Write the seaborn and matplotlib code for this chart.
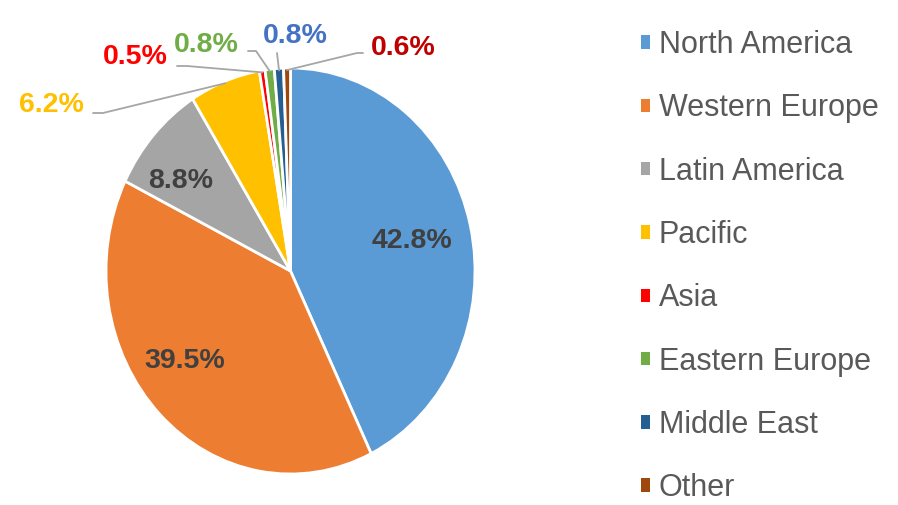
import numpy as np
import seaborn as sns
import matplotlib.pyplot as plt

# Dados do grafico
regioes = ['North America', 'Western Europe', 'Latin America', 'Pacific',
           'Asia', 'Eastern Europe', 'Middle East', 'Other']
percentuais = [42.8, 39.5, 8.8, 6.2, 0.5, 0.8, 0.8, 0.6]
cores = ['#5B9BD5', '#ED7D31', '#A5A5A5', '#FFC000',
         '#FF0000', '#70AD47', '#255E91', '#9E480E']
cores_rotulo = ['#404040', '#404040', '#404040', '#FFC000',
                '#FF0000', '#70AD47', '#4472C4', '#C00000']

# posicao dos rotulos (pixels da imagem, origem no canto superior esquerdo)
pos_rotulo = [(412, 248), (185, 368), (181, 188), (51, 112),
              (135, 64), (206, 52), (295, 43), (403, 55)]
# inicio das linhas de chamada (None = rotulo dentro da fatia)
inicio_linha = [None, None, None, [(93, 113), (103, 113)],
                [(177, 66), (187, 66)], [(248, 51), (256, 51)],
                [(277, 53)], [(363, 53), (357, 53)]]

# centro e raios da pizza (a imagem original esta esticada na vertical)
CX, CY, RX, RY = 290.5, 271, 184.5, 203
W, H = 898, 505


def px(x, y):
    return (x - CX) / RX, (CY - y) / RY


sns.set_theme(style='white')
plt.rcParams['font.family'] = ['Liberation Sans', 'DejaVu Sans']

fig = plt.figure(figsize=(W / 100, H / 100), dpi=100)
ax = fig.add_axes([0, 0, 1, 1])

fatias, _ = ax.pie(percentuais, colors=cores, startangle=90, counterclock=False,
                   wedgeprops=dict(edgecolor='white', linewidth=2))
ax.set_aspect('auto')
ax.set_xlim(px(0, 0)[0], px(W, 0)[0])
ax.set_ylim(px(0, H)[1], px(0, 0)[1])
ax.axis('off')

# rotulos e linhas de chamada
for fatia, valor, cor, pos, linha in zip(fatias, percentuais, cores_rotulo, pos_rotulo, inicio_linha):
    tx, ty = px(*pos)
    ax.text(tx, ty, f'{valor:.1f}%', color=cor, fontsize=20.5, fontweight='bold',
            ha='center', va='baseline')
    if linha is not None:
        ang = np.deg2rad((fatia.theta1 + fatia.theta2) / 2)
        pontos = [px(*p) for p in linha] + [(np.cos(ang) * 0.99, np.sin(ang) * 0.99)]
        xs, ys = zip(*pontos)
        ax.plot(xs, ys, color='#A6A6A6', linewidth=1.3)

leg = ax.legend(fatias, regioes, loc='upper left', bbox_to_anchor=(641 / W, 1 - 30 / H),
                bbox_transform=fig.transFigure, frameon=False, fontsize=22,
                handlelength=0.3, handleheight=0.3, handletextpad=0.28,
                labelspacing=1.09, borderpad=0, borderaxespad=0)
for t in leg.get_texts():
    t.set_color('#595959')
for h in leg.legend_handles:
    h.set_edgecolor('none')

fig.savefig('out.png', dpi=100)
